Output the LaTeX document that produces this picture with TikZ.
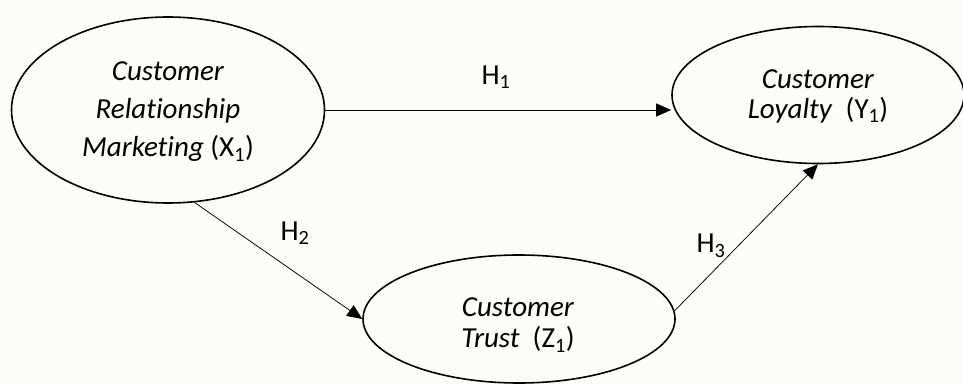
\documentclass[tikz,border=0pt]{standalone}
\usepackage{fontspec}
\setmainfont{Carlito}[Ligatures=NoCommon]
\usetikzlibrary{shapes.geometric,arrows.meta}
\definecolor{paper}{RGB}{252,252,248}
\tikzset{
  construct/.style={draw=black, line width=1.6pt, ellipse, inner sep=0pt},
  caption/.style={align=center, inner sep=0pt, text=black},
  path/.style={draw=black, line width=0.75pt, -{Triangle[length=15pt,width=13pt]}},
  hyp/.style={inner sep=0pt, font=\fontsize{29}{34}\selectfont}
}
\begin{document}
\begin{tikzpicture}[x=1pt, y=-1pt]
  % canvas
  \fill[paper] (0,0) rectangle (963,385);
  \useasboundingbox (0,0) rectangle (963,385);

  % latent constructs
  \node[construct, minimum width=313pt, minimum height=186pt] (X) at (168,110) {};
  \node[construct, minimum width=292pt, minimum height=137pt] (Y) at (818,95) {};
  \node[construct, minimum width=312pt, minimum height=128pt] (Z) at (519,319) {};

  % construct names
  \node[caption, font=\fontsize{29}{38}\selectfont] (Xt) at (168,112)
    {\textit{Customer}\\\textit{Relationship}\\\textit{Marketing} (X\textsubscript{1})};
  \node[caption, font=\fontsize{29}{30}\selectfont] (Yt) at (818,96)
    {\textit{Customer}\\\textit{Loyalty}\ \ (Y\textsubscript{1})};
  \node[caption, font=\fontsize{29}{31}\selectfont] (Zt) at (518,325)
    {\textit{Customer}\\\textit{Trust}\ \ (Z\textsubscript{1})};

  % hypothesised paths
  \draw[path] (X.east) -- (X.east -| Y.west);
  \draw[path] (X.286) -- (Z.west);
  \draw[path] (Z.3) -- (Y.south);

  % hypothesis labels
  \node[hyp] (H1) at (496,77) {H\textsubscript{1}};
  \node[hyp] (H2) at (295,233) {H\textsubscript{2}};
  \node[hyp] (H3) at (711,246) {H\textsubscript{3}};
\end{tikzpicture}
\end{document}
